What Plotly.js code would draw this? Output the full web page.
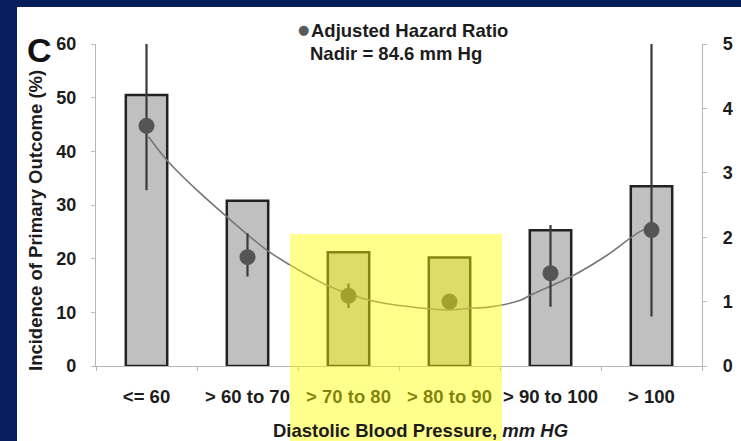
<!DOCTYPE html>
<html>
<head>
<meta charset="utf-8">
<script src="https://cdn.plot.ly/plotly-3.0.1.min.js"></script>
<style>
  html, body { margin: 0; padding: 0; background: #061f5c; }
  #chart { width: 741px; height: 441px; }
</style>
</head>
<body>
<div id="chart"></div>
<script>
// Diastolic blood pressure groups
const categories = ['<= 60', '> 60 to 70', '> 70 to 80', '> 80 to 90', '> 90 to 100', '> 100'];
const catPos = [0, 1, 2, 3, 4, 5];

// Incidence of primary outcome (%), left axis
const incidence = [50.5, 30.8, 21.2, 20.2, 25.3, 33.5];

// Adjusted hazard ratio with 95% CI, right axis
const hazardRatio = [3.73, 1.69, 1.09, 1.00, 1.44, 2.11];
const hrLower = [2.73, 1.39, 0.90, 1.00, 0.92, 0.77];
const hrUpper = [5.60, 2.06, 1.28, 1.00, 2.19, 6.20];

// Fitted hazard-ratio curve (position on the group axis, ratio)
const curveX = [0.02, 0.20, 0.50, 0.83, 1.19, 1.42, 1.62, 1.82, 2.21, 2.71, 3.00, 3.24, 3.37, 3.70, 3.80, 4.23, 4.56, 4.89, 5.02];
const curveY = [3.56, 3.20, 2.73, 2.27, 1.80, 1.57, 1.39, 1.23, 1.02, 0.90, 0.87, 0.90, 0.91, 1.02, 1.10, 1.41, 1.72, 2.09, 2.16];

const leftTicks = [0, 10, 20, 30, 40, 50, 60];
const rightTicks = [0, 1, 2, 3, 4, 5];

const FONT = 'Liberation Sans, Arial, sans-serif';
const boldFont = (size, color) => ({ family: FONT, size: size, color: color || '#1c1c1c', weight: 700 });

const bars = {
  type: 'bar',
  x: catPos,
  y: incidence,
  width: 0.41,
  marker: { color: '#c0c0c0', line: { color: '#222222', width: 2.5 } },
  xaxis: 'x', yaxis: 'y',
  hoverinfo: 'skip',
  showlegend: false
};

const curve = {
  type: 'scatter',
  mode: 'lines',
  x: curveX,
  y: curveY,
  line: { color: '#777777', width: 1.6, shape: 'spline', smoothing: 1 },
  xaxis: 'x', yaxis: 'y2',
  hoverinfo: 'skip',
  showlegend: false
};

const hr = {
  type: 'scatter',
  mode: 'markers',
  x: catPos,
  y: hazardRatio,
  error_y: {
    type: 'data',
    symmetric: false,
    array: hazardRatio.map((v, i) => hrUpper[i] - v),
    arrayminus: hazardRatio.map((v, i) => v - hrLower[i]),
    color: '#3a3a3a',
    thickness: 2.2,
    width: 0
  },
  marker: { color: '#555555', size: 16, line: { width: 0 } },
  xaxis: 'x', yaxis: 'y2',
  showlegend: false
};

const px = v => (v - 96) / 606;   // horizontal paper fraction from pixel
const py = v => (366 - v) / 322;  // vertical paper fraction from pixel

const layout = {
  width: 741,
  height: 441,
  margin: { l: 96, r: 39, t: 44, b: 75, pad: 0 },
  paper_bgcolor: '#061f5c',
  plot_bgcolor: '#ffffff',
  showlegend: false,
  bargap: 0,
  xaxis: {
    type: 'linear',
    range: [-0.5, 5.5],
    tickmode: 'array',
    tickvals: catPos,
    ticktext: categories,
    ticks: '',
    ticklabelstandoff: 14,
    tickfont: boldFont(18.5),
    showline: true,
    linecolor: '#b5b5b5',
    linewidth: 1.2,
    showgrid: false,
    zeroline: false,
    fixedrange: true,
    minor: {
      tickmode: 'array',
      tickvals: [-0.5, 0.5, 1.5, 2.5, 3.5, 4.5, 5.5],
      ticks: 'outside',
      ticklen: 4,
      tickcolor: '#b5b5b5',
      tickwidth: 1,
      showgrid: false
    }
  },
  yaxis: {
    range: [0, 60],
    tickmode: 'array',
    tickvals: leftTicks,
    ticks: 'outside',
    ticklen: 4,
    tickcolor: '#bdbdbd',
    ticklabelstandoff: 11,
    tickfont: boldFont(18),
    showline: true,
    linecolor: '#b5b5b5',
    linewidth: 1.2,
    showgrid: false,
    zeroline: false,
    fixedrange: true
  },
  yaxis2: {
    overlaying: 'y',
    side: 'right',
    range: [0, 5],
    tickmode: 'array',
    tickvals: rightTicks,
    ticks: 'outside',
    ticklen: 4,
    tickcolor: '#bdbdbd',
    ticklabelstandoff: 12,
    tickfont: boldFont(18),
    showline: true,
    linecolor: '#b5b5b5',
    linewidth: 1.2,
    showgrid: false,
    zeroline: false,
    fixedrange: true
  },
  shapes: [
    // white slide panel inside the navy frame
    {
      type: 'rect', xref: 'paper', yref: 'paper', layer: 'below',
      x0: px(17), x1: px(745), y0: py(445), y1: py(7),
      fillcolor: '#ffffff', line: { width: 0 }
    },
    // highlight over the 70–90 mm Hg groups
    {
      type: 'rect', xref: 'paper', yref: 'paper', layer: 'above',
      x0: px(290), x1: px(502), y0: py(445), y1: py(234),
      fillcolor: 'rgba(255,255,0,0.45)', line: { width: 0 }
    }
  ],
  annotations: [
    {
      text: 'C', xref: 'paper', yref: 'paper', x: px(39), y: py(50),
      xanchor: 'center', yanchor: 'middle', showarrow: false,
      font: boldFont(34, '#111111')
    },
    {
      text: '●', xref: 'paper', yref: 'paper', x: px(303), y: py(29),
      xanchor: 'center', yanchor: 'middle', showarrow: false,
      font: { family: 'DejaVu Sans, sans-serif', size: 13, color: '#5a5a5a' }
    },
    {
      text: 'Adjusted Hazard Ratio', xref: 'paper', yref: 'paper', x: px(309), y: py(30),
      xanchor: 'left', yanchor: 'middle', showarrow: false,
      font: boldFont(18.5)
    },
    {
      text: 'Nadir = 84.6 mm Hg', xref: 'paper', yref: 'paper', x: px(308), y: py(53),
      xanchor: 'left', yanchor: 'middle', showarrow: false,
      font: boldFont(18.5)
    },
    {
      text: 'Incidence of Primary Outcome (%)', xref: 'paper', yref: 'paper', x: px(35), y: py(221),
      xanchor: 'center', yanchor: 'middle', showarrow: false, textangle: -90,
      font: boldFont(18.5)
    },
    {
      text: 'Diastolic Blood Pressure, <i>mm HG</i>', xref: 'paper', yref: 'paper', x: px(420), y: py(430),
      xanchor: 'center', yanchor: 'middle', showarrow: false,
      font: boldFont(18.5)
    }
  ]
};

Plotly.newPlot('chart', [bars, curve, hr], layout, { displayModeBar: false, staticPlot: true });
</script>
</body>
</html>
